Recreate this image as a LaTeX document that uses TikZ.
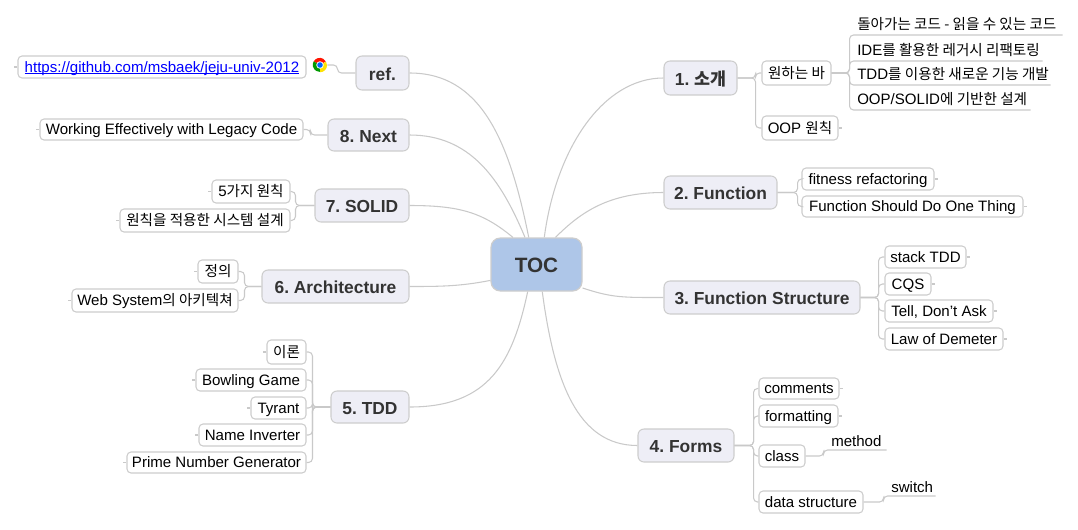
\documentclass[tikz,border=0pt]{standalone}
\usepackage{fontspec}
\setmainfont{Liberation Sans}[Ligatures=ResetAll]
\newfontfamily\krf{Noto Sans CJK KR}
\newcommand\kr[1]{{\krf\fontsize{10.9bp}{13bp}\selectfont #1}}
\newcommand\krb[1]{{\krf\bfseries #1}}
\newcommand\ulink[1]{\setbox0\hbox{#1}\rlap{\rule[-1.2pt]{\wd0}{0.6pt}}\box0 }
\definecolor{linegray}{HTML}{C9C9C9}
\definecolor{boxline}{HTML}{CDCDCD}
\definecolor{topicfill}{HTML}{EEEEF6}
\definecolor{rootfill}{HTML}{AEC6E8}
\definecolor{darktext}{HTML}{333333}
\tikzset{
  x=0.75pt,y=-0.75pt,
  conn/.style={draw=linegray,line width=0.8pt,rounded corners=3pt},
  rootbox/.style={draw=boxline,line width=0.9pt,fill=rootfill,rounded corners=7pt,text=darktext,font=\frenchspacing\fontsize{15.5bp}{18bp}\selectfont\bfseries,inner sep=0pt,text height=14pt,text depth=1.3pt},
  topicbox/.style={draw=boxline,line width=0.8pt,fill=topicfill,rounded corners=4.5pt,text=darktext,font=\frenchspacing\fontsize{13bp}{16bp}\selectfont\bfseries,inner sep=0pt,text height=12pt,text depth=1pt},
  leafbox/.style={draw=boxline,line width=0.8pt,fill=white,rounded corners=3pt,text=black,font=\frenchspacing\fontsize{11.25bp}{13bp}\selectfont,inner sep=0pt,text height=9pt,text depth=0.8pt},
  linetext/.style={inner sep=0pt,text=black,font=\frenchspacing\fontsize{11.25bp}{13bp}\selectfont,text height=9.8pt,text depth=0.8pt},
}
% name, style, x0, y0, x1, y1, text
\newcommand\tbox[7]{%
  \pgfmathsetlengthmacro\bw{(#5-#3)*0.75pt}%
  \pgfmathsetlengthmacro\bh{(#6-#4)*0.75pt}%
  \node[#2,minimum width=\bw,minimum height=\bh] (#1) at ({(#3+#5)/2},{(#4+#6)/2}) {#7};}
% name, x0, x1, baseline line y, text
\newcommand\ubox[5]{%
  \pgfmathsetlengthmacro\bw{(#3-#2)*0.75pt}%
  \node[linetext,anchor=south west,minimum width=\bw,minimum height=16.5pt] (#1) at (#2,#4) {\makebox[\bw][l]{\hspace{6pt}#5}};}
\begin{document}
\begin{tikzpicture}
\useasboundingbox (0,0) rectangle (1078,529);
% root and main topics
\tbox{toc}{rootbox}{491}{238}{582}{291}{TOC}
\tbox{n1}{topicbox}{664}{61}{737}{95}{1. \krb{소개}}
\tbox{n2}{topicbox}{664}{176}{777}{209}{2. Function}
\tbox{n3}{topicbox}{664}{281}{860}{314}{3. Function Structure}
\tbox{n4}{topicbox}{638}{429}{734}{462}{4. Forms}
\tbox{n5}{topicbox}{331}{391}{409}{423}{5. TDD}
\tbox{n6}{topicbox}{262}{270}{409}{303}{6. Architecture}
\tbox{n7}{topicbox}{315}{189}{409}{222}{7. SOLID}
\tbox{n8}{topicbox}{328}{119}{409}{151}{8. Next}
\tbox{nr}{topicbox}{356}{56}{409}{90}{ref.}
% leaves right
\tbox{a1}{leafbox}{762}{61}{831}{85}{\kr{원하는 바}}
\tbox{a2}{leafbox}{762}{116}{838}{140}{OOP \kr{원칙}}
\ubox{s1}{849}{1062}{35}{\kr{돌아가는 코드 - 읽을 수 있는 코드}}
\ubox{s2}{849}{1042}{61}{IDE\kr{를 활용한 레거시 리팩토링}}
\ubox{s3}{849}{1050}{85}{TDD\kr{를 이용한 새로운 기능 개발}}
\ubox{s4}{849}{1030}{110}{OOP/SOLID\kr{에 기반한 설계}}
\tbox{b1}{leafbox}{802}{168}{934}{190}{fitness refactoring}
\tbox{b2}{leafbox}{802}{196}{1023}{217}{Function Should Do One Thing}
\tbox{c1}{leafbox}{885}{246}{966}{268}{stack TDD}
\tbox{c2}{leafbox}{885}{273}{931}{295}{CQS}
\tbox{c3}{leafbox}{885}{300}{993}{322}{Tell, Don't Ask}
\tbox{c4}{leafbox}{885}{328}{1003}{350}{Law of Demeter}
\tbox{d1}{leafbox}{759}{378}{839}{399}{comments}
\tbox{d2}{leafbox}{759}{405}{838}{427}{formatting}
\tbox{d3}{leafbox}{759}{445}{805}{467}{class}
\tbox{d4}{leafbox}{759}{491}{863}{513}{data structure}
\ubox{m1}{823}{886}{450}{\raisebox{-1.5pt}{method}}
\ubox{m2}{883}{935}{496}{\raisebox{-1.5pt}{switch}}
% leaves left
\tbox{e1}{leafbox}{267}{340}{306}{364}{\kr{이론}}
\tbox{e2}{leafbox}{196}{369}{306}{391}{Bowling Game}
\tbox{e3}{leafbox}{251}{397}{306}{419}{Tyrant}
\tbox{e4}{leafbox}{199}{424}{306}{446}{Name Inverter}
\tbox{e5}{leafbox}{127}{452}{306}{473}{Prime Number Generator}
\tbox{f1}{leafbox}{198}{260}{238}{283}{\kr{정의}}
\tbox{f2}{leafbox}{72}{289}{238}{312}{Web System\kr{의 아키텍쳐}}
\tbox{g1}{leafbox}{212}{180}{290}{203}{5\kr{가지 원칙}}
\tbox{g2}{leafbox}{120}{209}{290}{232}{\kr{원칙을 적용한 시스템 설계}}
\tbox{h1}{leafbox}{40}{119}{303}{140}{Working Effectively with Legacy Code}
\tbox{r1}{leafbox}{18}{56}{306}{78}{\textcolor{blue}{\ulink{https://github.com/msbaek/jeju-univ-2012}}}
% chrome icon
\node[circle,minimum size=10.5pt,inner sep=0pt] (chrome) at (320,65) {};
\fill[red!85!orange] (chrome.center) -- (chrome.150) arc[start angle=150,end angle=30,radius=5.25pt] -- cycle;
\fill[green!60!black] (chrome.center) -- (chrome.150) arc[start angle=150,end angle=270,radius=5.25pt] -- cycle;
\fill[yellow!85!orange] (chrome.center) -- (chrome.270) arc[start angle=270,end angle=390,radius=5.25pt] -- cycle;
\fill[white] (chrome.center) circle[radius=2.8pt];
\fill[blue!60!cyan] (chrome.center) circle[radius=2.1pt];
% main curves
\draw[conn] (toc.74) .. controls +(12,-90) and +(-60,0) .. (n1.west);
\draw[conn] (toc.55) .. controls +(25,-25) and +(-55,0) .. (n2.west);
\draw[conn] (toc.-27) .. controls +(30,10) and +(-40,0) .. (n3.west);
\draw[conn] (toc.-78) .. controls +(12,90) and +(-60,0) .. (n4.west);
\draw[conn] (toc.-108) .. controls +(-15,70) and +(80,0) .. (n5.east);
\draw[conn] (toc.199) .. controls +(-30,6) and +(30,0) .. (n6.east);
\draw[conn] (toc.131) .. controls +(-30,-25) and +(50,0) .. (n7.east);
\draw[conn] (toc.113) .. controls +(-25,-60) and +(60,0) .. (n8.east);
\draw[conn] (toc.106) .. controls +(-20,-100) and +(70,0) .. (nr.east);
% branch connectors
\foreach \c in {a1,a2} \draw[conn] (n1.east) -- ++(18,0) |- (\c.west);
\foreach \c in {b1,b2} \draw[conn] (n2.east) -- ++(20,0) |- (\c.west);
\foreach \c in {c1,c2,c3,c4} \draw[conn] (n3.east) -- ++(18,0) |- (\c.west);
\foreach \c in {d1,d2,d3,d4} \draw[conn] (n4.east) -- ++(19,0) |- (\c.west);
\foreach \c in {s1,s2,s3,s4} \draw[conn] (a1.east) -- ++(18,0) |- (\c.south east);
\draw[conn] (d3.east) -- ++(18,0) |- (m1.south east);
\draw[conn] (d4.east) -- ++(20,0) |- (m2.south east);
\foreach \c in {e1,e2,e3,e4,e5} \draw[conn] (n5.west) -- ++(-18,0) |- (\c.east);
\foreach \c in {f1,f2} \draw[conn] (n6.west) -- ++(-17,0) |- (\c.east);
\foreach \c in {g1,g2} \draw[conn] (n7.west) -- ++(-19,0) |- (\c.east);
\draw[conn] (n8.west) -- ++(-17,0) |- (h1.east);
\draw[conn] (nr.west) -- ++(-18,0) |- (chrome.east);
% small end stubs
\foreach \c in {a2,b1,b2,c1,c2,c3,c4,d1,d2} \draw[conn] (\c.east) -- ++(3,0);
\foreach \c in {e1,e2,e3,e4,e5,f1,f2,g1,g2,h1,r1} \draw[conn] (\c.west) -- ++(-3,0);
\end{tikzpicture}
\end{document}
